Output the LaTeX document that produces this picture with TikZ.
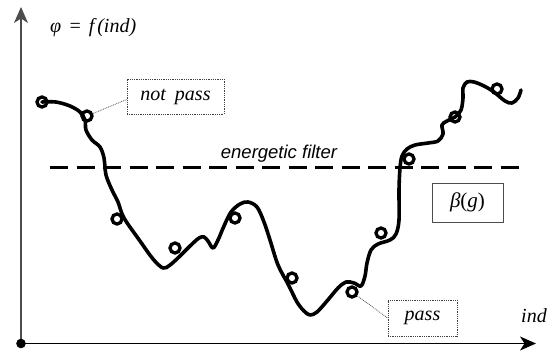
\documentclass[tikz,border=0pt]{standalone}
\usepackage{fontspec}
\setmainfont{Liberation Serif}
\newfontfamily\arialfont{Liberation Sans}
\usetikzlibrary{arrows.meta}

\tikzset{
  axisline/.style={line width=1.4pt, -{Stealth[length=16pt,width=14pt,inset=4.5pt]}},
  landscape/.style={line width=3.6pt, line cap=round, line join=round},
  ring/.style={circle, draw, line width=3.3pt, minimum size=10pt, inner sep=0pt},
  filterline/.style={line width=3pt, dash pattern=on 18pt off 8.5pt},
  notebox/.style={draw=black!75, densely dotted, line width=0.8pt, inner sep=0pt,
                  minimum width=#1, font=\fontsize{20}{20}\selectfont\itshape},
  leader/.style={draw=black!70, densely dotted, line width=0.8pt},
  labeltext/.style={font=\fontsize{20}{20}\selectfont\itshape, inner sep=0pt},
}

\begin{document}
\begin{tikzpicture}[x=1pt, y=-1pt]
  \useasboundingbox (0,0) rectangle (553,356);

  % axes
  \coordinate (origin) at (21,343.5);
  \coordinate (ytip) at (21,7);
  \coordinate (xtip) at (536,343.5);
  \draw[axisline, draw=black!70] (origin) -- (ytip);
  \draw[axisline] (origin) -- (xtip);
  \fill (origin) circle (4.8pt);

  \node[labeltext, anchor=base west] (flabel) at (50,32)
    {φ\hspace{0.35em}=\hspace{0.35em}f\hspace{0.15em}(ind)};
  \node[labeltext, anchor=base west] (indlabel) at (521,322) {ind};

  % energetic filter
  \draw[filterline] (50,167) -- (521,167);
  \node[font=\arialfont\fontsize{18.5}{18.5}\selectfont\itshape, anchor=base, inner sep=0pt]
    (filterlabel) at (279,158.5) {energetic filter};

  % the energy landscape
  \draw[landscape] plot[smooth, tension=0.55] coordinates {
    (42,102) (56,102) (70,106) (80,112) (85,120) (86,130) (92,140) (100,147)
    (104,158) (106,175) (112,190) (118,202) (124,218) (140,241) (153,259)
    (163,268) (170,265) (180,256) (190,246) (199,238) (204,237) (208,241)
    (213,248) (218,240) (224,226) (231,212) (240,204) (248,202) (257,207)
    (264,222) (270,240) (278,265) (288,284) (297,302) (304,311) (310,315)
    (317,312) (327,301) (338,288) (346,282) (354,283) (361,286) (365,276)
    (367,263) (371,250) (378,244) (390,240) (396,234) (399,220) (399,190)
    (400,168) (402,156) (407,149) (415,145) (428,143) (438,141) (443,134)
    (442,125) (447,121) (455,117) (461,110) (463,98) (463,88) (467,82)
    (474,82) (484,86) (494,92) (505,101) (512,103) (518,98) (521,90)
  };

  % sampled individuals
  \node[ring] (p1)  at (42,102) {};
  \node[ring] (p2)  at (87,116) {};
  \node[ring] (p3)  at (117,219) {};
  \node[ring] (p4)  at (175,248) {};
  \node[ring] (p5)  at (235,218) {};
  \node[ring] (p6)  at (292,278) {};
  \node[ring] (p7)  at (352,292) {};
  \node[ring] (p8)  at (381,233) {};
  \node[ring] (p9)  at (409,159) {};
  \node[ring] (p10) at (455,117) {};
  \node[ring] (p11) at (497,89) {};

  % callouts
  \node[notebox=97pt, minimum height=35pt] (notpass) at (175.5,96.5) {not\hspace{0.45em}pass};
  \node[notebox=69pt, minimum height=36pt] (pass) at (422.5,318) {pass};
  \draw[leader] (p2) -- ([yshift=-3pt]notpass.west);
  \draw[leader] (p7) -- (pass.west);

  \node[draw=black!70, line width=0.8pt, minimum width=71pt, minimum height=39pt,
        inner sep=0pt, font=\fontsize{21}{21}\selectfont] (beta) at (467.5,202.5)
        {\textit{β}(\textit{g})};
\end{tikzpicture}
\end{document}
